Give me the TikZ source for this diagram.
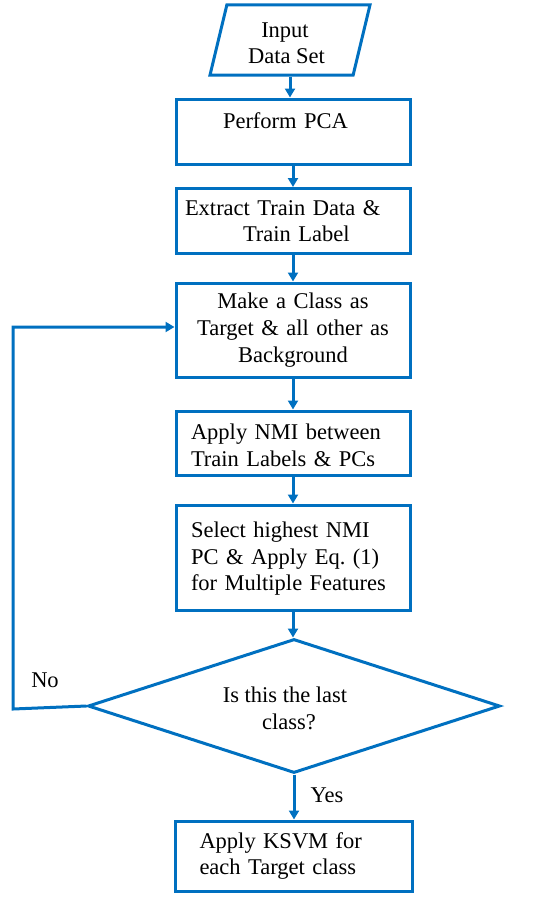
\documentclass[tikz,border=0pt]{standalone}
\usepackage{fontspec}
\setmainfont{Liberation Serif}
\usetikzlibrary{shapes.geometric,arrows.meta}
\definecolor{flowblue}{HTML}{0070C0}
\begin{document}
\frenchspacing
\begin{tikzpicture}[x=1pt,y=-1pt,
  every node/.style={font=\fontsize{22.5}{26.7}\selectfont},
  box/.style={draw=flowblue,line width=3pt,rectangle,minimum width=234pt,text width=216pt,inner xsep=9pt,inner ysep=0pt},
  arr/.style={draw=flowblue,line width=3pt,-{Triangle[length=9pt,width=10pt]}},
  lbl/.style={inner sep=0pt}]
\useasboundingbox (0,0) rectangle (541,899);
\node[draw=flowblue,line width=3pt,trapezium,trapezium left angle=77,trapezium right angle=103,trapezium stretches=true,minimum width=160pt,minimum height=70pt,inner sep=0pt,align=center] (input) at (290,40) {\rule{0pt}{21.5pt}Input\hspace*{10pt}\\Data Set\hspace*{7pt}};
\node[box,minimum height=65pt,align=left] (pca) at (293,131.5) {\hspace*{38pt}Perform PCA\rule[-22pt]{0pt}{1pt}};
\node[box,minimum height=65pt,align=left] (ext) at (293,221) {Extract Train Data \&\\\hspace*{58pt}Train Label};
\node[box,minimum height=94pt,align=center] (mk) at (293,330) {Make a Class as\\Target \& all other as\\Background};
\node[box,minimum height=64pt,align=left] (nmi) at (293,443) {\rule{0pt}{20.5pt}\hspace*{6pt}Apply NMI between\\\hspace*{6pt}Train Labels \& PCs};
\node[box,minimum height=105pt,align=left] (sel) at (293,557.5) {\rule{0pt}{18pt}\hspace*{6pt}Select highest NMI\\\hspace*{6pt}PC \& Apply Eq. (1)\\\hspace*{6pt}for Multiple Features};
\node[draw=flowblue,line width=3pt,diamond,aspect=3,minimum width=412pt,minimum height=134pt,inner sep=0pt,align=center] (dia) at (294,706) {\rule{0pt}{20.5pt}Is this the last\hspace*{18pt}\\class?\hspace*{10pt}};
\node[box,minimum width=237pt,text width=219pt,minimum height=70pt,align=left] (ksvm) at (294,856) {\hspace*{15pt}Apply KSVM for\\\hspace*{15pt}each Target class};
\coordinate (c1) at (13,709);
\coordinate (c2) at (13,327);
\draw[arr] (input.south) -- (input.south |- pca.north);
\draw[arr] (pca) -- (ext);
\draw[arr] (ext) -- (mk);
\draw[arr] (mk) -- (nmi);
\draw[arr] (nmi) -- (sel);
\draw[arr] (sel.south) -- (sel.south |- dia.north);
\draw[arr] (dia.south) -- (dia.south |- ksvm.north);
\draw[arr,line join=miter] (dia.west) -- (c1) -- (c2) -- (c2 -| mk.west);
\node[lbl] (no) at (45,680) {No};
\node[lbl] (yes) at (327,795) {Yes};
\end{tikzpicture}
\end{document}
